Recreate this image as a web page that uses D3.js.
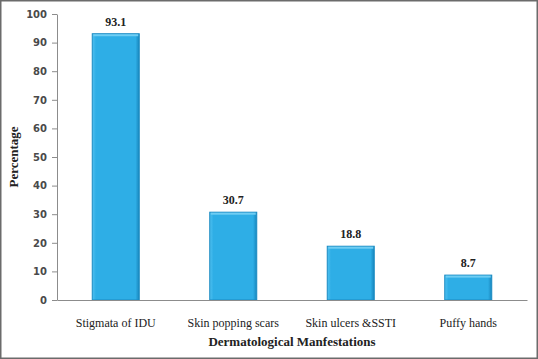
<!DOCTYPE html>
<html>
<head>
<meta charset="utf-8">
<script src="https://d3js.org/d3.v7.min.js"></script>
<style>
  body { margin: 0; background: #fff; }
</style>
</head>
<body>
<script>
var categories = ["Stigmata of IDU", "Skin popping scars", "Skin ulcers &SSTI", "Puffy hands"];
var values = [93.1, 30.7, 18.8, 8.7];
var yTicks = [0, 10, 20, 30, 40, 50, 60, 70, 80, 90, 100];

var width = 538, height = 359;
var plotLeft = 57, plotRight = 527, plotTop = 14, plotBottom = 300;

var svg = d3.select("body").append("svg")
  .attr("width", width)
  .attr("height", height);

// outer frame
svg.append("rect")
  .attr("x", 0.75).attr("y", 0.75)
  .attr("width", width - 1.5).attr("height", height - 1.5)
  .attr("fill", "#fff").attr("stroke", "#6b6b6b").attr("stroke-width", 1.5);

var defs = svg.append("defs");
var grad = defs.append("linearGradient").attr("id", "barGrad")
  .attr("x1", 0).attr("x2", 1).attr("y1", 0).attr("y2", 0);
grad.append("stop").attr("offset", "0%").attr("stop-color", "#4fc0f0");
grad.append("stop").attr("offset", "8%").attr("stop-color", "#2eaee6");
grad.append("stop").attr("offset", "92%").attr("stop-color", "#2eaee6");
grad.append("stop").attr("offset", "100%").attr("stop-color", "#1886bd");

var x = d3.scaleBand()
  .domain(categories)
  .range([plotLeft, plotRight])
  .paddingInner(0.6)
  .paddingOuter(0.3);

var y = d3.scaleLinear()
  .domain([0, 100])
  .range([plotBottom, plotTop]);

// y axis
var yAxis = svg.append("g")
  .attr("transform", "translate(" + plotLeft + ",0)")
  .call(d3.axisLeft(y).tickValues(yTicks).tickSize(5).tickSizeOuter(0).tickPadding(5));
yAxis.select(".domain").attr("stroke", "#8c8c8c");
yAxis.selectAll(".tick line").attr("stroke", "#8c8c8c");
yAxis.selectAll("text")
  .attr("font-family", "DejaVu Sans, Verdana, sans-serif")
  .attr("font-size", "10px")
  .attr("font-weight", "bold")
  .attr("fill", "#4a4a4a");

// bars
var bars = svg.selectAll(".bar")
  .data(values)
  .enter().append("g")
  .attr("class", "bar");

bars.append("rect")
  .attr("x", function(d, i) { return x(categories[i]); })
  .attr("y", function(d) { return y(d); })
  .attr("width", x.bandwidth())
  .attr("height", function(d) { return plotBottom - y(d); })
  .attr("fill", "url(#barGrad)")
  .attr("stroke", "#1a8ac2")
  .attr("stroke-width", 1);

// top bevel highlight
bars.append("rect")
  .attr("x", function(d, i) { return x(categories[i]) + 1; })
  .attr("y", function(d) { return y(d) + 0.5; })
  .attr("width", x.bandwidth() - 2)
  .attr("height", 2)
  .attr("fill", "#6fcdf3");

// value labels
bars.append("text")
  .attr("x", function(d, i) { return x(categories[i]) + x.bandwidth() / 2; })
  .attr("y", function(d) { return y(d) - 8; })
  .attr("text-anchor", "middle")
  .attr("font-family", "Liberation Serif, Times New Roman, serif")
  .attr("font-size", "12px")
  .attr("font-weight", "bold")
  .attr("fill", "#222")
  .text(function(d) { return d; });

// x axis
var xAxis = svg.append("g")
  .attr("transform", "translate(0," + plotBottom + ")")
  .call(d3.axisBottom(x).tickSize(0).tickPadding(18));
xAxis.select(".domain").attr("stroke", "#8c8c8c");
xAxis.selectAll("text")
  .attr("font-family", "Liberation Serif, Times New Roman, serif")
  .attr("font-size", "12px")
  .attr("fill", "#222");

// axis titles
svg.append("text")
  .attr("x", (plotLeft + plotRight) / 2)
  .attr("y", 346)
  .attr("text-anchor", "middle")
  .attr("font-family", "Liberation Serif, Times New Roman, serif")
  .attr("font-size", "13px")
  .attr("font-weight", "bold")
  .attr("fill", "#222")
  .text("Dermatological Manfestations");

svg.append("text")
  .attr("transform", "translate(18," + (plotTop + plotBottom) / 2 + ") rotate(-90)")
  .attr("text-anchor", "middle")
  .attr("font-family", "Liberation Serif, Times New Roman, serif")
  .attr("font-size", "13px")
  .attr("font-weight", "bold")
  .attr("fill", "#222")
  .text("Percentage");
</script>
</body>
</html>
